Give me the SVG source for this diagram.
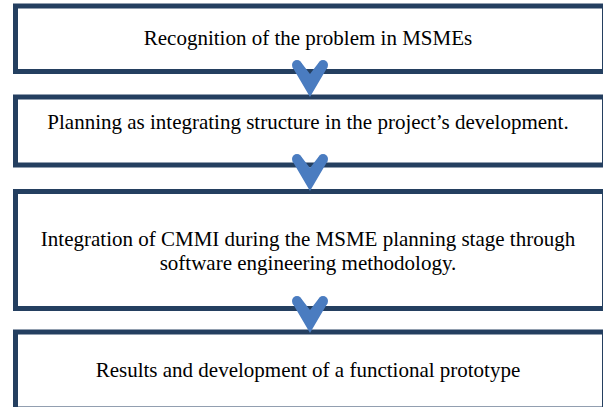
<svg xmlns="http://www.w3.org/2000/svg" width="603" height="407" viewBox="0 0 603 407">
<style>
.box{fill:#fff;stroke:#243F60;stroke-width:5}
.t{font-family:"Liberation Serif","Times New Roman",serif;font-size:21px;fill:#000;text-anchor:middle}
.arr{fill:#4A7CC0}
</style>
<defs>
<g id="chev">
<path d="M292.4 1.9 L310 32 L327.6 1.9 L318.4 -1.9 L310 9 L301.6 -1.9 Z"/>
<circle cx="297" cy="0" r="5"/>
<circle cx="323" cy="0" r="5"/>
</g>
</defs>
<rect width="603" height="407" fill="#fff"/>
<g id="n1"><rect class="box" x="15.5" y="6" width="589" height="65.5"/><text class="t" x="308" y="45">Recognition of the problem in MSMEs</text></g>
<g id="n2"><rect class="box" x="15.5" y="97" width="589" height="68"/><text class="t" x="308" y="129">Planning as integrating structure in the project’s development.</text></g>
<g id="n3"><rect class="box" x="15.5" y="191.5" width="589" height="117"/><text class="t" x="308" y="246">Integration of CMMI during the MSME planning stage through</text><text class="t" x="308" y="270">software engineering methodology.</text></g>
<g id="n4"><rect class="box" x="15.5" y="332" width="589" height="77"/><text class="t" x="308" y="377">Results and development of a functional prototype</text></g>
<g id="connectors" class="arr">
<use href="#chev" transform="translate(0,65)"/>
<use href="#chev" transform="translate(0,159)"/>
<use href="#chev" transform="translate(0,301)"/>
</g>
</svg>
